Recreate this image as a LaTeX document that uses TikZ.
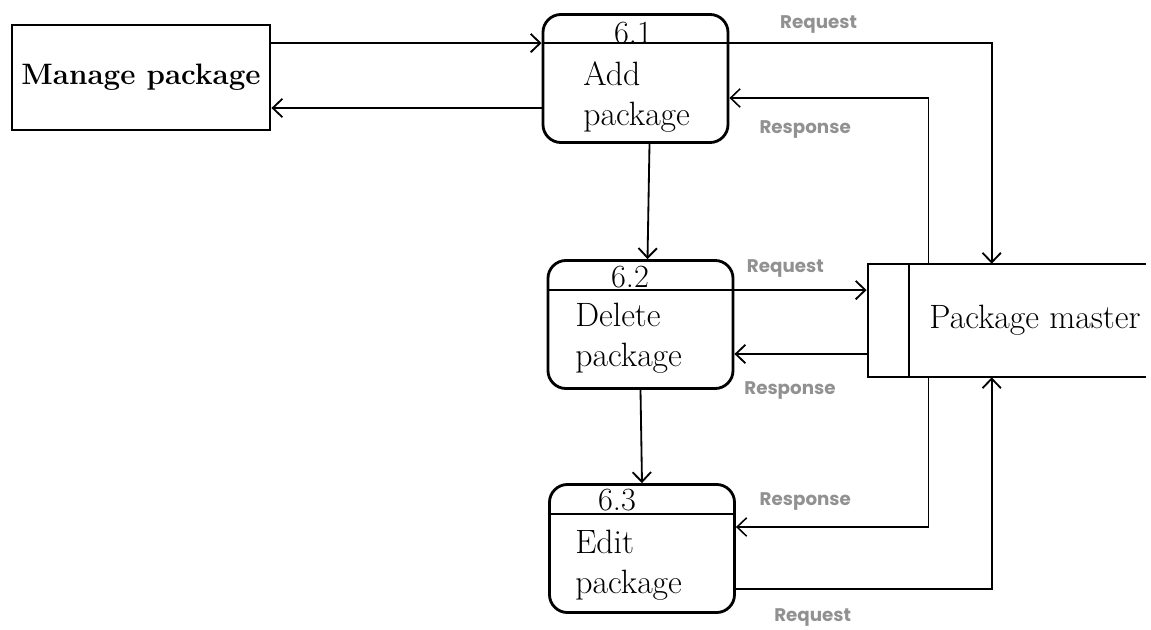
\documentclass[tikz,border=0pt]{standalone}
\usepackage{fontspec}
\newfontfamily\lblfont{Poppins}
\usetikzlibrary{calc,arrows.meta}
\definecolor{lblgray}{RGB}{145,145,145}
\tikzset{
  box/.style={draw, line width=2pt, minimum width=4.625cm, minimum height=3.2cm, rounded corners=0.45cm},
  ext/.style={draw, line width=2pt, minimum width=6.45cm, minimum height=2.625cm, font=\fontsize{21}{24}\selectfont\bfseries},
  num/.style={font=\fontsize{23}{26}\selectfont, inner sep=0pt},
  pname/.style={font=\fontsize{24}{28.45}\selectfont, align=left, anchor=west, inner sep=0pt},
  flow/.style={line width=1.3pt, -{Straight Barb[length=2.4mm,width=4.6mm]}},
  lbl/.style={font=\lblfont\bfseries\fontsize{13}{15}\selectfont, text=lblgray, inner sep=0pt},
}
\begin{document}
\begin{tikzpicture}[x=0.025cm, y=-0.025cm]
    \useasboundingbox (0,0) rectangle (1151,630);
    % external entity
    \node[ext] (mp) at (141,77.5) {Manage package};
    % processes
    \node[box] (p61) at (635.5,78.5) {};
    \node[num] (n61) at (633,33) {6.1};
    \node[pname] (t61) at (583,97) {Add\\package};
    \node[box] (p62) at (640.5,324.5) {};
    \node[num] (n62) at (630,277) {6.2};
    \node[pname] (t62) at (575,338) {Delete\\package};
    \node[box] (p63) at (642,548.5) {};
    \node[num] (n63) at (617,500) {6.3};
    \node[pname] (t63) at (575,565) {Edit\\package};
    \coordinate (s61w) at ($(p61.north west)+(0,30)$);
    \coordinate (s61e) at ($(p61.north east)+(0,30)$);
    \coordinate (s62w) at ($(p62.north west)+(0,31)$);
    \coordinate (s62e) at ($(p62.north east)+(0,31)$);
    \coordinate (s63w) at ($(p63.north west)+(0,31)$);
    \coordinate (s63e) at ($(p63.north east)+(0,31)$);
    \draw[line width=1.3pt] (s61w) -- (s61e);
    \draw[line width=1.3pt] (s62w) -- (s62e);
    \draw[line width=1.3pt] (s63w) -- (s63e);
    % data store
    \node[draw, line width=2pt, minimum width=1.025cm, minimum height=2.825cm] (sid) at (888.5,320.5) {};
    \node[minimum width=5.925cm, minimum height=2.825cm, inner xsep=0pt, font=\fontsize{24}{26}\selectfont] (pm) at (1027.5,320.5) {\hspace{0.375cm}\raisebox{-0.08cm}{Package master}};
    \draw[line width=1.2pt] (pm.north west) -- (pm.north east);
    \draw[line width=1.2pt] (pm.south west) -- (pm.south east);
    % flows
    \draw[flow] (mp.east |- s61w) -- (s61w);
    \draw[flow] ($(p61.west)+(0,29.5)$) -- ($(mp.east)+(0,30.5)$);
    \draw[flow] (s61e) -| node[lbl, pos=0.17, above=6pt] {Request} ($(pm.north west)+(83,0)$);
    \draw[flow, line width=1.1pt] ($(pm.north west)+(20,0)$) |- node[lbl, pos=0.81, below=15.5pt] {Response} ($(p61.east)+(0,19.5)$);
    \draw[flow] ($(p61.south)+(14,0)$) -- ($(p62.north)+(7,0)$);
    \draw[flow] (s62e) -- node[lbl, pos=0.385, above=8.5pt] {Request} (sid.west |- s62e);
    \draw[flow] ($(sid.west)+(0,33.5)$) -- node[lbl, pos=0.58, below=19pt] {Response} ($(p62.east)+(0,29.5)$);
    \draw[flow] (p62.south) -- (p63.north);
    \draw[flow, line width=1.1pt] ($(pm.south west)+(20,0)$) |- node[lbl, pos=0.82, above=11.5pt] {Response} ($(p63.east)+(0,-21.5)$);
    \draw[flow] ($(p63.east)+(0,40.5)$) -| node[lbl, pos=0.15, below=13pt] {Request} ($(pm.south west)+(83,0)$);
  \end{tikzpicture}
\end{document}
